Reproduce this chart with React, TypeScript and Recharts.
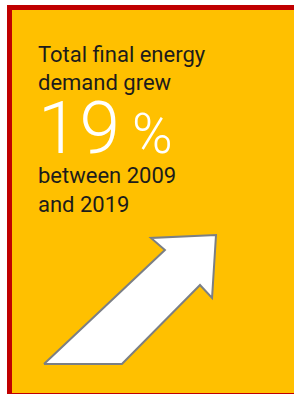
import { Area, AreaChart, Customized, XAxis, YAxis } from "recharts";

// arrow outline, in a 0-100 frame (y up), closed back on the first vertex
const arrowX = [0, 70.3, 62.2, 100, 97.7, 90.7, 45.3, 0];
const arrowY = [0, 88.4, 97.7, 100, 51.2, 61.2, 0, 0];

const headlineLines = ["Total final energy", "demand grew"];
const figureValue = "19";
const figureUnit = "%";
const periodLines = ["between 2009", "and 2019"];

const YELLOW = "#FFC000";
const RED = "#C00000";
const INK = "#1c1c1c";

const arrowData = arrowX.map((x, i) => ({ x, y: arrowY[i] }));

function Headline() {
  return (
    <g fontFamily="Roboto, sans-serif">
      {headlineLines.map((line, i) => (
        <text key={line} x={38} y={62 + i * 27.5} fontSize={22} fill={INK}>
          {line}
        </text>
      ))}
      <text x={38} y={153} fill="#ffffff" fontWeight={300} letterSpacing={1}>
        <tspan fontSize={73}>{figureValue}</tspan>
        <tspan fontSize={55} dx={11}>
          {figureUnit}
        </tspan>
      </text>
      {periodLines.map((line, i) => (
        <text key={line} x={38} y={183 + i * 28.5} fontSize={22} fill={INK}>
          {line}
        </text>
      ))}
    </g>
  );
}

export default function App() {
  return (
    <div
      style={{
        position: "absolute",
        top: 0,
        left: 0,
        width: 294,
        height: 394,
        overflow: "hidden",
        background: "#ffffff",
      }}
    >
      <div
        style={{
          position: "absolute",
          left: 7,
          top: 5,
          width: 320,
          height: 393,
          boxSizing: "border-box",
          background: YELLOW,
          borderLeft: `5px solid ${RED}`,
          borderTop: `5px solid ${RED}`,
          borderBottom: `5px solid ${RED}`,
        }}
      />
      <div style={{ position: "absolute", top: 0, left: 0 }}>
        <AreaChart
          width={294}
          height={394}
          data={arrowData}
          margin={{ top: 235, right: 78, bottom: 30, left: 44 }}
        >
          <XAxis dataKey="x" type="number" domain={[0, 100]} hide />
          <YAxis type="number" domain={[0, 100]} hide />
          <Area
            type="linear"
            dataKey="y"
            baseValue={0}
            fill="#ffffff"
            fillOpacity={1}
            stroke="#7b7f85"
            strokeWidth={2}
            strokeLinejoin="miter"
            dot={false}
            activeDot={false}
            isAnimationActive={false}
          />
          <Customized component={<Headline />} />
        </AreaChart>
      </div>
    </div>
  );
}
